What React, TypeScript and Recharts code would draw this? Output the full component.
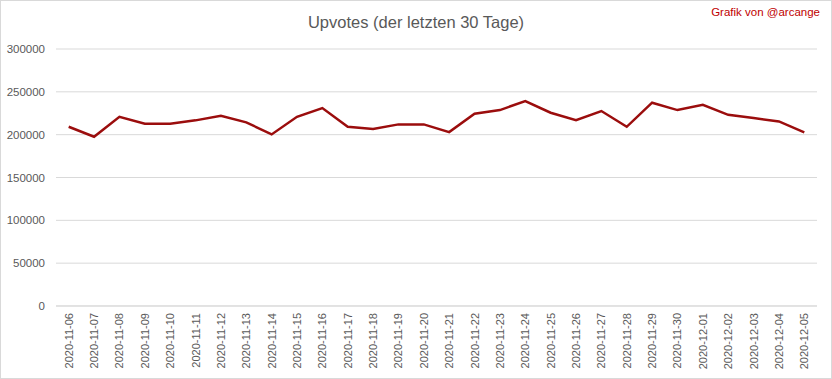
import React from "react";
import { LineChart, Line, XAxis, YAxis, CartesianGrid } from "recharts";

const dates = [
  "2020-11-06", "2020-11-07", "2020-11-08", "2020-11-09", "2020-11-10",
  "2020-11-11", "2020-11-12", "2020-11-13", "2020-11-14", "2020-11-15",
  "2020-11-16", "2020-11-17", "2020-11-18", "2020-11-19", "2020-11-20",
  "2020-11-21", "2020-11-22", "2020-11-23", "2020-11-24", "2020-11-25",
  "2020-11-26", "2020-11-27", "2020-11-28", "2020-11-29", "2020-11-30",
  "2020-12-01", "2020-12-02", "2020-12-03", "2020-12-04", "2020-12-05",
];

const upvotes = [
  209200, 197600, 220900, 212700, 212700, 216700, 222100, 214400, 200300, 220900,
  231100, 209200, 206500, 212000, 212000, 203000, 224400, 228700, 239300, 225600,
  217000, 227600, 209200, 237300, 228700, 234900, 223200, 219400, 215500, 202700,
];

const yTicks = [0, 50000, 100000, 150000, 200000, 250000, 300000];

const title = "Upvotes (der letzten 30 Tage)";
const credit = "Grafik von @arcange";

const data = dates.map((d, i) => ({ date: d, value: upvotes[i] }));

const FONT = "'Liberation Sans', Arial, sans-serif";
const TEXT_COLOR = "#595959";

const XTick = (props: any) => {
  const { x, y, payload } = props;
  return (
    <text
      x={x}
      y={y}
      transform={`rotate(-90, ${x}, ${y})`}
      textAnchor="end"
      dominantBaseline="central"
      fontSize={11}
      fontFamily={FONT}
      fill={TEXT_COLOR}
    >
      {payload.value}
    </text>
  );
};

export default function App() {
  return (
    <div style={{ position: "absolute", left: 0, top: 0, width: 832, height: 379, background: "#fff" }}>
      <LineChart
        width={832}
        height={379}
        data={data}
        margin={{ top: 49, right: 15, bottom: 0, left: 0 }}
      >
        <CartesianGrid vertical={false} stroke="#d9d9d9" strokeWidth={1} />
        <XAxis
          dataKey="date"
          interval={0}
          height={73}
          padding={{ left: 12.7, right: 12.7 }}
          axisLine={{ stroke: "#d9d9d9" }}
          tickLine={false}
          tickSize={0}
          tickMargin={7}
          tick={<XTick />}
        />
        <YAxis
          width={56}
          domain={[0, 300000]}
          ticks={yTicks}
          interval={0}
          axisLine={false}
          tickLine={false}
          tickSize={0}
          tickMargin={11}
          tick={{ fontSize: 11.5, fontFamily: FONT, fill: TEXT_COLOR }}
        />
        <Line
          type="linear"
          dataKey="value"
          stroke="#9b0d0d"
          strokeWidth={2.5}
          dot={false}
          isAnimationActive={false}
        />
      </LineChart>
      <div
        style={{
          position: "absolute",
          left: 0,
          width: 832,
          top: 14,
          textAlign: "center",
          fontFamily: FONT,
          fontSize: 16.5,
          lineHeight: "16.5px",
          color: TEXT_COLOR,
          whiteSpace: "nowrap",
        }}
      >
        {title}
      </div>
      <div
        style={{
          position: "absolute",
          right: 12,
          top: 7,
          fontFamily: FONT,
          fontSize: 11.5,
          lineHeight: "11.5px",
          color: "#c00000",
          whiteSpace: "nowrap",
        }}
      >
        {credit}
      </div>
      <div
        style={{
          position: "absolute",
          left: 0,
          top: 0,
          width: 832,
          height: 379,
          boxSizing: "border-box",
          border: "1px solid #d9d9d9",
          pointerEvents: "none",
        }}
      />
    </div>
  );
}
